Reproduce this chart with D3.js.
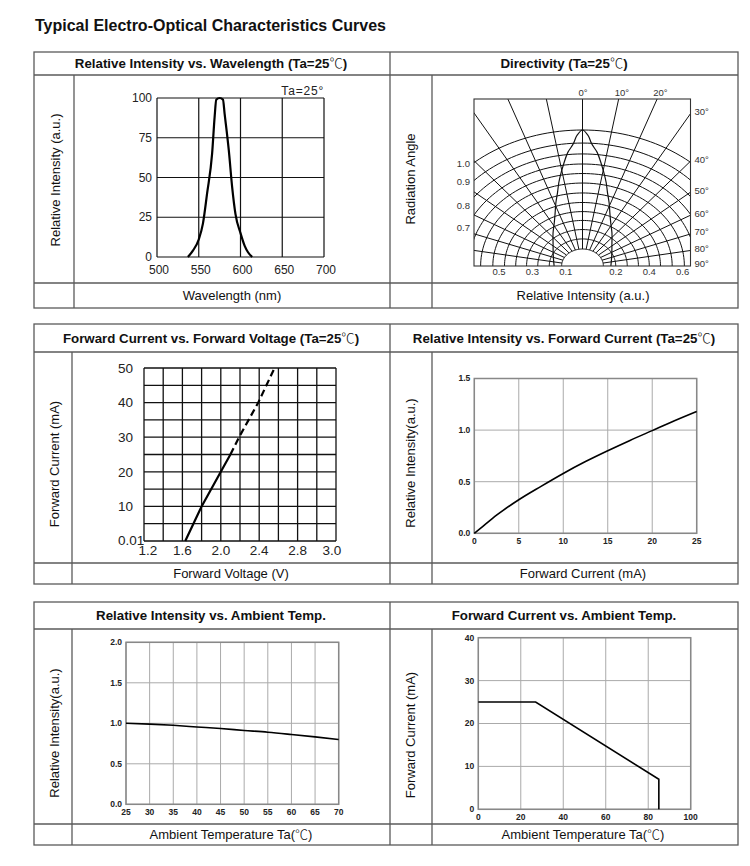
<!DOCTYPE html>
<html><head><meta charset="utf-8">
<script src="https://cdn.jsdelivr.net/npm/d3@7"></script>
<style>body{margin:0;background:#fff} svg{display:block}</style>
</head><body><svg id="c" width="750" height="866"></svg>
<script>
// ---------------- DATA ----------------
const pageTitle = "Typical Electro-Optical Characteristics Curves";
const headerTitles = [
  ["Relative Intensity vs. Wavelength (Ta=25℃)", "Directivity (Ta=25℃)"],
  ["Forward Current vs. Forward Voltage (Ta=25℃)", "Relative Intensity vs. Forward Current (Ta=25℃)"],
  ["Relative Intensity vs. Ambient Temp.", "Forward Current vs. Ambient Temp."]
];
const footerTitles = [
  ["Wavelength (nm)", "Relative Intensity (a.u.)"],
  ["Forward Voltage (V)", "Forward Current (mA)"],
  ["Ambient Temperature Ta(℃)", "Ambient Temperature Ta(℃)"]
];
const sideTitles = [
  ["Relative Intensity (a.u.)", "Radiation Angle"],
  ["Forward Current (mA)", "Relative Intensity(a.u.)"],
  ["Relative Intensity(a.u.)", "Forward Current (mA)"]
];

// 1. Relative intensity vs wavelength
const wlNm  = [537, 543, 550, 555, 560, 566, 569, 571, 575, 579, 581, 586, 590, 594, 600, 605, 609, 614];
const wlRel = [0,   4,   11,  21,  40,  65,  88,  99,  100, 99,  90,  67,  44,  27,  15,  7,   3,   0];
const wlXTicks = [500, 550, 600, 650, 700];
const wlYTicks = [0, 25, 50, 75, 100];
const wlNote = "Ta=25°";

// 2. Directivity
const dirAngles    = [0, 2, 3.5, 6, 8.5, 10.5, 13, 15.5, 19, 23, 28, 36, 46, 67, 90];
const dirIntensity = [1.0, 0.96, 0.90, 0.84, 0.76, 0.70, 0.63, 0.56, 0.49, 0.42, 0.36, 0.30, 0.245, 0.19, 0.17];
const dirRings  = [1, 0.904, 0.824, 0.75, 0.68, 0.61, 0.537, 0.467, 0.40, 0.335, 0.268, 0.199];
const dirInner  = 0.125;
const dirSpokes = [-80, -70, -60, -50, -40, -30, -20, -10, 0, 10, 20, 30, 40, 50, 60, 70, 80];
const dirTopAngles   = [0, 10, 20];
const dirTopLabels   = ["0°", "10°", "20°"];
const dirRightAngles = [30, 40, 50, 60, 70, 80, 90];
const dirRightLabels = ["30°", "40°", "50°", "60°", "70°", "80°", "90°"];
const dirLeftValues  = [0.75, 0.618, 0.441, 0.279];
const dirLeftLabels  = ["1.0", "0.9", "0.8", "0.7"];
const dirBottomValues = [-0.5, -0.3, -0.1, 0.2, 0.4, 0.6];
const dirBottomLabels = ["0.5", "0.3", "0.1", "0.2", "0.4", "0.6"];

// 3. Forward current vs forward voltage
const fvSolidV = [1.63, 1.8, 2.0, 2.1];
const fvSolidI = [0, 10, 20, 25];
const fvDashV  = [2.1, 2.19, 2.39, 2.56];
const fvDashI  = [25, 30, 40, 50];
const fvGridV  = [1.2, 1.4, 1.6, 1.8, 2.0, 2.2, 2.4, 2.6, 2.8, 3.0, 3.2];
const fvGridI  = [0, 5, 10, 15, 20, 25, 30, 35, 40, 45, 50];
const fvXTicks = [1.2, 1.6, 2.0, 2.4, 2.8, 3.2];
const fvXLabels = ["1.2", "1.6", "2.0", "2.4", "2.8", "3.0"];
const fvYTicks = [0, 10, 20, 30, 40, 50];
const fvYLabels = ["0.01", "10", "20", "30", "40", "50"];

// 4. Relative intensity vs forward current
const riIfCurrent = [0, 1, 2.5, 5, 7.5, 10, 12.5, 15, 17.5, 20, 22.5, 25];
const riIfRel     = [0, 0.07, 0.175, 0.325, 0.455, 0.58, 0.695, 0.80, 0.90, 0.995, 1.09, 1.18];
const riIfXTicks = [0, 5, 10, 15, 20, 25];
const riIfYTicks = [0, 0.5, 1.0, 1.5];

// 5. Relative intensity vs ambient temperature
const riTTemp = [25, 30, 35, 40, 45, 50, 55, 60, 65, 70];
const riTRel  = [1.0, 0.99, 0.975, 0.955, 0.935, 0.912, 0.89, 0.862, 0.832, 0.80];
const riTXTicks = [25, 30, 35, 40, 45, 50, 55, 60, 65, 70];
const riTYTicks = [0, 0.5, 1.0, 1.5, 2.0];

// 6. Forward current vs ambient temperature
const ifTTemp = [0, 27, 85, 85];
const ifTCurrent = [25, 25, 7, 0];
const ifTXTicks = [0, 20, 40, 60, 80, 100];
const ifTYTicks = [0, 10, 20, 30, 40];

// ---------------- DRAWING ----------------
const SANS = "'Liberation Sans', Arial, sans-serif";
const CJK = "'Noto Sans CJK SC', sans-serif";
const svg = d3.select("#c");
svg.append("rect").attr("width", 750).attr("height", 866).attr("fill", "#fff");

function richText(sel, str) {
  const parts = str.split("℃");
  parts.forEach((p, i) => {
    if (p) sel.append("tspan").text(p);
    if (i < parts.length - 1) sel.append("tspan").attr("font-family", CJK).attr("font-weight", "300").text("℃");
  });
  return sel;
}

svg.append("text").attr("x", 35).attr("y", 31)
  .attr("font-family", SANS).attr("font-weight", "bold").attr("font-size", 16)
  .attr("fill", "#111").text(pageTitle);

// frames
const L = 34, MID = 390, R = 738;
const frames = [
  {top: 52, head: 75, foot: 283, bottom: 308, divL: 74, divR: 432, sideY: [180, 179]},
  {top: 324, head: 352, foot: 563, bottom: 584, divL: 72, divR: 432, sideY: [464, 463]},
  {top: 602, head: 629, foot: 824, bottom: 845, divL: 72, divR: 432, sideY: [733, 735]}
];
frames.forEach((f, i) => {
  const g = svg.append("g").attr("stroke", "#5a5a5a").attr("stroke-width", 1.3).attr("fill", "none");
  g.append("rect").attr("x", L).attr("y", f.top).attr("width", R - L).attr("height", f.bottom - f.top);
  [f.head, f.foot].forEach(y => g.append("line").attr("x1", L).attr("x2", R).attr("y1", y).attr("y2", y));
  g.append("line").attr("x1", MID).attr("x2", MID).attr("y1", f.top).attr("y2", f.bottom);
  [f.divL, f.divR].forEach(x => g.append("line").attr("x1", x).attr("x2", x).attr("y1", f.head).attr("y2", f.bottom));
  const hy = (f.top + f.head) / 2 + 4.7;
  richText(svg.append("text").attr("x", 211).attr("y", hy).attr("text-anchor", "middle")
    .attr("font-family", SANS).attr("font-weight", "bold").attr("font-size", 13.3).attr("fill", "#111"), headerTitles[i][0]);
  richText(svg.append("text").attr("x", 564).attr("y", hy).attr("text-anchor", "middle")
    .attr("font-family", SANS).attr("font-weight", "bold").attr("font-size", 13.3).attr("fill", "#111"), headerTitles[i][1]);
  const fy = (f.foot + f.bottom) / 2 + 4.7;
  richText(svg.append("text").attr("x", (f.divL + MID) / 2).attr("y", fy).attr("text-anchor", "middle")
    .attr("font-family", SANS).attr("font-size", 13).attr("fill", "#111"), footerTitles[i][0]);
  richText(svg.append("text").attr("x", 583).attr("y", fy).attr("text-anchor", "middle")
    .attr("font-family", SANS).attr("font-size", 13).attr("fill", "#111"), footerTitles[i][1]);
  const sx = [(L + f.divL) / 2 + 1, (MID + f.divR) / 2 - 0.5];
  [0, 1].forEach(k => {
    svg.append("text").attr("transform", `translate(${sx[k]},${f.sideY[k]}) rotate(-90)`)
      .attr("text-anchor", "middle").attr("dy", "0.35em")
      .attr("font-family", SANS).attr("font-size", 13).attr("fill", "#111").text(sideTitles[i][k]);
  });
});

// ---- Chart 1: wavelength
(function () {
  const x = d3.scaleLinear().domain([500, 700]).range([157, 324]);
  const y = d3.scaleLinear().domain([0, 100]).range([257, 98]);
  const g = svg.append("g");
  const grid = g.append("g").attr("stroke", "#111").attr("stroke-width", 1.2);
  wlXTicks.forEach(t => grid.append("line").attr("x1", x(t)).attr("x2", x(t)).attr("y1", y(0)).attr("y2", y(100)));
  wlYTicks.forEach(t => grid.append("line").attr("x1", x(500)).attr("x2", x(700)).attr("y1", y(t)).attr("y2", y(t)));
  const tf = {"font-family": SANS, "font-size": 12, "fill": "#222"};
  wlYTicks.forEach(t => g.append("text").attr("x", x(500) - 5).attr("y", y(t)).attr("dy", "0.35em")
    .attr("text-anchor", "end").attr("font-family", tf["font-family"]).attr("font-size", 12).attr("fill", "#222").text(t));
  wlXTicks.forEach(t => g.append("text").attr("x", x(t) + 2).attr("y", y(0) + 17)
    .attr("text-anchor", "middle").attr("font-family", SANS).attr("font-size", 12).attr("fill", "#222").text(t));
  g.append("text").attr("x", x(700)).attr("y", y(100) - 3).attr("text-anchor", "end")
    .attr("font-family", SANS).attr("font-size", 12).attr("letter-spacing", 0.8).attr("fill", "#222").text(wlNote);
  const line = d3.line().x((d, i) => x(wlNm[i])).y((d, i) => y(wlRel[i])).curve(d3.curveMonotoneX);
  g.append("path").attr("d", line(wlNm)).attr("fill", "none").attr("stroke", "#000").attr("stroke-width", 2.2);
})();

// ---- Chart 2: directivity
(function () {
  const box = {x0: 474, x1: 690.5, y0: 99, y1: 266};
  const cx = 582.5;
  const xP = d3.scaleLinear().domain([-1, 1]).range([cx - 167, cx + 167]);
  const yP = d3.scaleLinear().domain([0, 1]).range([266, 130]);
  const rad = a => a * Math.PI / 180;
  const pt = (r, a) => [xP(r * Math.sin(rad(a))), yP(r * Math.cos(rad(a)))];
  svg.append("clipPath").attr("id", "dirclip").append("rect")
    .attr("x", box.x0).attr("y", box.y0).attr("width", box.x1 - box.x0).attr("height", box.y1 - box.y0);
  const g = svg.append("g").attr("clip-path", "url(#dirclip)");
  const arcAngles = d3.range(-90, 90.1, 2);
  const ln = d3.line();
  dirRings.concat([dirInner]).forEach(r => {
    g.append("path").attr("d", ln(arcAngles.map(a => pt(r, a))))
      .attr("fill", "none").attr("stroke", "#111").attr("stroke-width", 1);
  });
  dirSpokes.forEach(a => {
    const p0 = pt(dirInner, a), p1 = pt(3, a);
    g.append("line").attr("x1", p0[0]).attr("y1", p0[1]).attr("x2", p1[0]).attr("y2", p1[1])
      .attr("stroke", "#111").attr("stroke-width", 1);
  });
  // lobe
  const lobeA = dirAngles.slice().reverse().map(a => -a).concat(dirAngles.slice(1));
  const lobeR = dirIntensity.slice().reverse().concat(dirIntensity.slice(1));
  const lobe = d3.line().curve(d3.curveCatmullRom.alpha(0.5));
  g.append("path").attr("d", lobe(lobeA.map((a, i) => pt(lobeR[i], a))))
    .attr("fill", "none").attr("stroke", "#111").attr("stroke-width", 1.2);
  svg.append("rect").attr("x", box.x0).attr("y", box.y0).attr("width", box.x1 - box.x0).attr("height", box.y1 - box.y0)
    .attr("fill", "none").attr("stroke", "#333").attr("stroke-width", 1.1);
  const lf = (s) => s.attr("font-family", SANS).attr("font-size", 9.5).attr("fill", "#333");
  const vTop = yP.invert(box.y0);
  dirTopAngles.forEach((a, i) => {
    const xx = xP(vTop * Math.tan(rad(a)));
    lf(svg.append("text").attr("x", xx - 4).attr("y", box.y0 - 3).text(dirTopLabels[i]));
  });
  const uRight = xP.invert(box.x1);
  dirRightAngles.forEach((a, i) => {
    const v = a === 90 ? 0 : uRight / Math.tan(rad(a));
    lf(svg.append("text").attr("x", box.x1 + 4).attr("y", yP(v) - 2).attr("dy", "0.35em").text(dirRightLabels[i]));
  });
  dirLeftValues.forEach((v, i) => {
    lf(svg.append("text").attr("x", box.x0 - 4).attr("y", yP(v)).attr("dy", "0.35em").attr("text-anchor", "end").text(dirLeftLabels[i]));
  });
  dirBottomValues.forEach((u, i) => {
    lf(svg.append("text").attr("x", xP(u)).attr("y", box.y1 + 8.5).attr("text-anchor", "middle").text(dirBottomLabels[i]));
  });
})();

// ---- Chart 3: forward voltage
(function () {
  const x = d3.scaleLinear().domain([1.2, 3.2]).range([144, 336]);
  const y = d3.scaleLinear().domain([0, 50]).range([541, 368]);
  const g = svg.append("g");
  const grid = g.append("g").attr("stroke", "#111").attr("stroke-width", 1.3);
  fvGridV.forEach(t => grid.append("line").attr("x1", x(t)).attr("x2", x(t)).attr("y1", y(0)).attr("y2", y(50)));
  fvGridI.forEach(t => grid.append("line").attr("x1", x(1.2)).attr("x2", x(3.2)).attr("y1", y(t)).attr("y2", y(t)));
  fvYTicks.forEach((t, i) => g.append("text").attr("x", 118).attr("y", y(t) - (i === 0 ? 1 : 0)).attr("dy", "0.35em")
    .attr("font-family", SANS).attr("font-size", 13.5).attr("fill", "#222").text(fvYLabels[i]));
  fvXTicks.forEach((t, i) => g.append("text")
    .attr("x", x(t) + (i === 0 ? 4 : i === fvXTicks.length - 1 ? -4 : 0)).attr("y", y(0) + 14)
    .attr("text-anchor", "middle").attr("font-family", SANS).attr("font-size", 13.5).attr("fill", "#222").text(fvXLabels[i]));
  const solid = d3.line().x((d, i) => x(fvSolidV[i])).y((d, i) => y(fvSolidI[i]));
  g.append("path").attr("d", solid(fvSolidV)).attr("fill", "none").attr("stroke", "#000").attr("stroke-width", 2.2);
  const dash = d3.line().x((d, i) => x(fvDashV[i])).y((d, i) => y(fvDashI[i]));
  g.append("path").attr("d", dash(fvDashV)).attr("fill", "none").attr("stroke", "#000").attr("stroke-width", 2.2)
    .attr("stroke-dasharray", "7,4");
})();

// ---- generic gray chart
function grayChart(xd, yd, xr, yr, xTicks, yTicks, xs, ys, yFmt, lineW) {
  const x = d3.scaleLinear().domain(xd).range(xr);
  const y = d3.scaleLinear().domain(yd).range(yr);
  const g = svg.append("g");
  const grid = g.append("g").attr("stroke", "#aaa").attr("stroke-width", 1);
  xTicks.forEach(t => grid.append("line").attr("x1", x(t)).attr("x2", x(t)).attr("y1", yr[0]).attr("y2", yr[1]));
  yTicks.forEach(t => grid.append("line").attr("x1", xr[0]).attr("x2", xr[1]).attr("y1", y(t)).attr("y2", y(t)));
  g.append("rect").attr("x", xr[0]).attr("y", yr[1]).attr("width", xr[1] - xr[0]).attr("height", yr[0] - yr[1])
    .attr("fill", "none").attr("stroke", "#888").attr("stroke-width", 1.5);
  yTicks.forEach(t => g.append("text").attr("x", xr[0] - 4).attr("y", y(t)).attr("dy", "0.35em").attr("text-anchor", "end")
    .attr("font-family", SANS).attr("font-weight", "bold").attr("font-size", 8.5).attr("fill", "#222").text(yFmt(t)));
  xTicks.forEach(t => g.append("text").attr("x", x(t)).attr("y", yr[0] + 11).attr("text-anchor", "middle")
    .attr("font-family", SANS).attr("font-weight", "bold").attr("font-size", 8.5).attr("fill", "#222").text(t));
  const line = d3.line().x((d, i) => x(xs[i])).y((d, i) => y(ys[i]));
  if (lineW.curve) line.curve(lineW.curve);
  g.append("path").attr("d", line(xs)).attr("fill", "none").attr("stroke", "#000").attr("stroke-width", 1.6);
}
const f1 = d3.format(".1f");
grayChart([0, 25], [0, 1.5], [474.3, 696.7], [533.3, 378.5], riIfXTicks, riIfYTicks, riIfCurrent, riIfRel, f1, {curve: d3.curveMonotoneX});
grayChart([25, 70], [0, 2], [126, 338.7], [804.3, 642.3], riTXTicks, riTYTicks, riTTemp, riTRel, f1, {curve: d3.curveMonotoneX});
grayChart([0, 100], [0, 40], [478.3, 690.7], [809.3, 637.7], ifTXTicks, ifTYTicks, ifTTemp, ifTCurrent, d => d, {});
</script></body></html>
